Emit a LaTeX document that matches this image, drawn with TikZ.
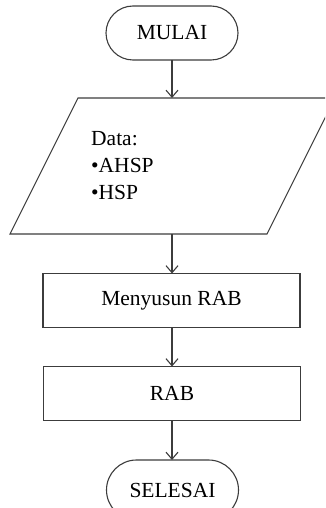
\documentclass[tikz,border=0pt]{standalone}
\usepackage{fontspec}
\setmainfont{Liberation Serif}
\usetikzlibrary{shapes.misc,arrows.meta}
\definecolor{linegray}{HTML}{3C3C3C}
\begin{document}
\begin{tikzpicture}[x=1pt,y=-1pt,
  every node/.style={font=\fontsize{21.5}{26}\selectfont, text=black},
  outline/.style={draw=linegray, line width=1.1pt},
  terminal/.style={outline, rounded rectangle,
    minimum width=132pt, minimum height=54pt, inner sep=0pt, outer sep=0pt},
  iobody/.style={rectangle, minimum width=257pt, minimum height=136pt,
    inner sep=0pt, outer sep=0pt},
  procbox/.style={outline, rectangle,
    minimum width=257pt, minimum height=54pt, inner sep=0pt, outer sep=0pt},
  flow/.style={outline,
    -{Straight Barb[length=7pt,width=12pt,line width=1.1pt]}}]
  \useasboundingbox (0,0) rectangle (325,508);
  \clip (0,0) rectangle (325,508);

  % start
  \node[terminal] (mulai) at (172,33) {MULAI};

  % input data: parallelogram slanted 34pt each way around its body
  \node[iobody] (data) at (172.5,166) {};
  \draw[outline] ([xshift=-34pt]data.south west) -- ([xshift=34pt]data.north west)
    -- ([xshift=34pt]data.north east) -- ([xshift=-34pt]data.south east) -- cycle;
  \node[anchor=north west, align=left, inner sep=0pt] (datatext) at (91,131)
    {Data:\\[1pt]\textbullet AHSP\\[1pt]\textbullet HSP};

  % processing steps
  \node[procbox] (susun) at (171.5,300.5) {Menyusun RAB};
  \node[procbox] (rab) at (172,393.5) {RAB};

  % end
  \node[terminal, minimum height=60pt] (selesai) at (172.5,490) {SELESAI};

  % connectors
  \draw[flow] (mulai.south) -- (data.north -| mulai.south);
  \draw[flow] (data.south -| mulai.south) -- (susun.north -| mulai.south);
  \draw[flow] (susun.south -| mulai.south) -- (rab.north -| mulai.south);
  \draw[flow] (rab.south -| mulai.south) -- (selesai.north -| mulai.south);
\end{tikzpicture}
\end{document}
